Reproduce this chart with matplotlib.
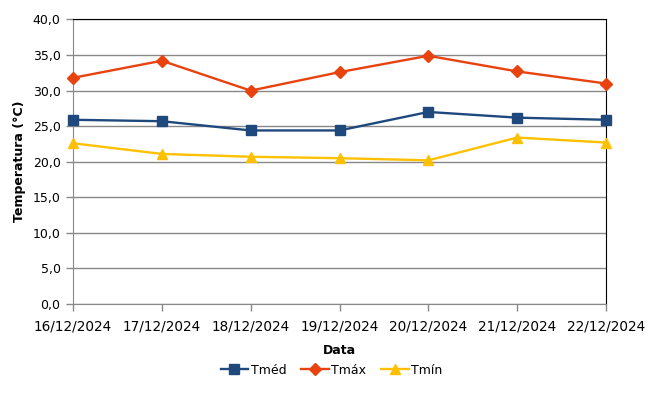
import matplotlib
matplotlib.use('Agg')
import matplotlib.pyplot as plt

# Dados
datas = ['16/12/2024', '17/12/2024', '18/12/2024', '19/12/2024',
         '20/12/2024', '21/12/2024', '22/12/2024']
tmed = [25.9, 25.7, 24.4, 24.4, 27.0, 26.2, 25.9]
tmax = [31.8, 34.2, 30.0, 32.6, 34.9, 32.7, 31.0]
tmin = [22.6, 21.1, 20.7, 20.5, 20.2, 23.4, 22.7]
yticks = [0, 5, 10, 15, 20, 25, 30, 35, 40]

plt.rcParams['font.family'] = 'DejaVu Sans'

fig = plt.figure(figsize=(6.59, 4.01), dpi=100)
ax = fig.add_axes([73 / 659, 1 - 304 / 401, (606 - 73) / 659, (304 - 19.5) / 401])

x = list(range(len(datas)))
ax.plot(x, tmed, color='#1F497D', marker='s', markersize=6.5, linewidth=1.7, label='Tméd', clip_on=False, zorder=3)
ax.plot(x, tmax, color='#E8420E', marker='D', markersize=6, linewidth=1.7, label='Tmáx', clip_on=False, zorder=3)
ax.plot(x, tmin, color='#FFC000', marker='^', markersize=7, linewidth=1.7, label='Tmín', clip_on=False, zorder=3)

ax.set_xlim(0, len(datas) - 1)
ax.set_ylim(0, 40)
ax.set_xticks(x)
ax.set_xticklabels(datas, fontsize=9.8)
ax.set_yticks(yticks)
ax.set_yticklabels([f'{v:.1f}'.replace('.', ',') for v in yticks], fontsize=9)

ax.grid(axis='y', color='#888888', linewidth=1)
ax.set_axisbelow(True)
ax.spines['top'].set_color('black')
ax.spines['left'].set_color('#888888')
ax.spines['bottom'].set_color('#888888')
ax.spines['right'].set_color('black')
ax.tick_params(axis='both', color='#888888', length=5, width=1)
ax.tick_params(axis='x', pad=6)
ax.tick_params(axis='y', pad=4)

ax.set_xlabel('Data', fontsize=9, fontweight='bold', labelpad=8)
ax.set_ylabel('Temperatura (°C)', fontsize=9, fontweight='bold', labelpad=5)

ax.legend(loc='upper center', bbox_to_anchor=(0.485, -0.17), ncol=3, frameon=False,
          fontsize=9, handlelength=2.2, handletextpad=0.2, columnspacing=1.2)

fig.savefig('out.png', dpi=100)
